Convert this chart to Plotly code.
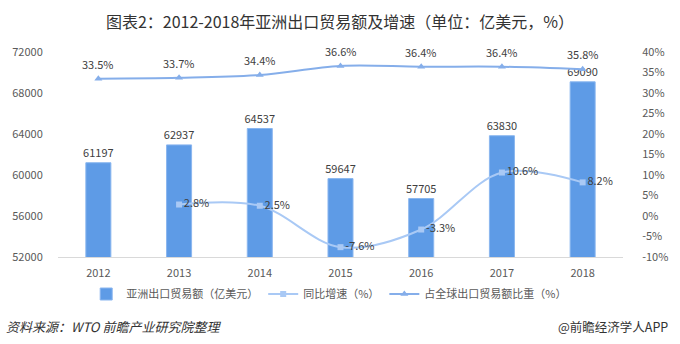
import plotly.graph_objects as go

years = ["2012", "2013", "2014", "2015", "2016", "2017", "2018"]
export_value = [61197, 62937, 64537, 59647, 57705, 63830, 69090]
growth_years = ["2013", "2014", "2015", "2016", "2017", "2018"]
growth_rate = [2.8, 2.5, -7.6, -3.3, 10.6, 8.2]
share_rate = [33.5, 33.7, 34.4, 36.6, 36.4, 36.4, 35.8]

left_ticks = [52000, 56000, 60000, 64000, 68000, 72000]
right_ticks = [-10, -5, 0, 5, 10, 15, 20, 25, 30, 35, 40]

FONT = "Noto Sans CJK SC, Noto Sans, sans-serif"
BAR_C = "#5e9be6"
SHARE_C = "#85aeea"
GROWTH_C = "#a9c9f5"
TXT = "#404040"

fig = go.Figure()
fig.add_trace(go.Bar(
    x=years, y=export_value, name="亚洲出口贸易额（亿美元）",
    marker=dict(color=BAR_C, line=dict(color="#8ab6ef", width=1)),
    width=0.31,
    text=[str(v) for v in export_value], textposition="outside",
    textfont=dict(size=11, color=TXT, family=FONT),
    constraintext="none",
    cliponaxis=False,
))
fig.add_trace(go.Scatter(
    x=growth_years, y=growth_rate, name="同比增速（%）", yaxis="y2",
    mode="lines+markers+text",
    line=dict(color=GROWTH_C, width=2, shape="spline", smoothing=1.0),
    marker=dict(symbol="square", size=6, color=GROWTH_C),
    text=[f"{v}%" for v in growth_rate], textposition="middle right",
    textfont=dict(size=11, color=TXT, family=FONT),
    cliponaxis=False,
))
fig.add_trace(go.Scatter(
    x=years, y=share_rate, name="占全球出口贸易额比重（%）", yaxis="y2",
    mode="lines+markers",
    line=dict(color=SHARE_C, width=2, shape="spline", smoothing=1.0),
    marker=dict(symbol="triangle-up", size=7, color=SHARE_C),
    cliponaxis=False,
))

annotations = []
for i, v in enumerate(share_rate):
    annotations.append(dict(
        x=i, y=v, xref="x", yref="y2", text=f"{v}%", showarrow=False,
        yshift=15, font=dict(size=11, color=TXT, family=FONT),
    ))
annotations.append(dict(xref="paper", yref="paper", x=(-10 - 46) / 587, y=-(326 - 257) / 205,
                        text="<i>资料来源：WTO 前瞻产业研究院整理</i>", showarrow=False,
                        xanchor="left", yanchor="middle",
                        font=dict(size=13, color="#333333", family=FONT)))
annotations.append(dict(xref="paper", yref="paper", x=(682 - 46) / 587, y=-(326 - 257) / 205,
                        text="@前瞻经济学人APP", showarrow=False,
                        xanchor="right", yanchor="middle",
                        font=dict(size=12.5, color="#333333", family=FONT)))

fig.update_layout(
    width=680, height=344,
    margin=dict(l=46, r=47, t=52, b=87),
    paper_bgcolor="white", plot_bgcolor="white",
    font=dict(family=FONT, size=11, color="#595959"),
    title=dict(text="图表2：2012-2018年亚洲出口贸易额及增速（单位：亿美元，%）",
               x=0.5, xanchor="center", y=1 - 22 / 344, yanchor="middle",
               font=dict(size=16, color="#333333", family=FONT)),
    xaxis=dict(type="category", categoryorder="array", categoryarray=years,
               range=[-0.5, len(years) - 0.5],
               showline=True, linecolor="#d9d9d9", linewidth=1,
               ticks="outside", ticklen=6, tickcolor="rgba(0,0,0,0)",
               showgrid=False, tickfont=dict(size=11, color="#595959")),
    yaxis=dict(range=[52000, 72000], tickmode="array", tickvals=left_ticks,
               tickformat="d", showgrid=False,
               zeroline=False, showline=False,
               ticks="outside", ticklen=12, tickcolor="rgba(0,0,0,0)",
               tickfont=dict(size=11, color="#595959")),
    yaxis2=dict(range=[-10, 40], tickmode="array", tickvals=right_ticks,
                ticktext=[f"{t}%" for t in right_ticks],
                overlaying="y", side="right", showgrid=False, zeroline=False,
                showline=False, ticks="outside", ticklen=16, tickcolor="rgba(0,0,0,0)",
                tickfont=dict(size=11, color="#595959")),
    legend=dict(orientation="h", x=0.48, xanchor="center", y=-(294 - 257) / 205,
                yanchor="middle", font=dict(size=11, color="#595959"),
                traceorder="normal"),
    annotations=annotations,
    showlegend=True,
)

fig.write_html("out.html")
